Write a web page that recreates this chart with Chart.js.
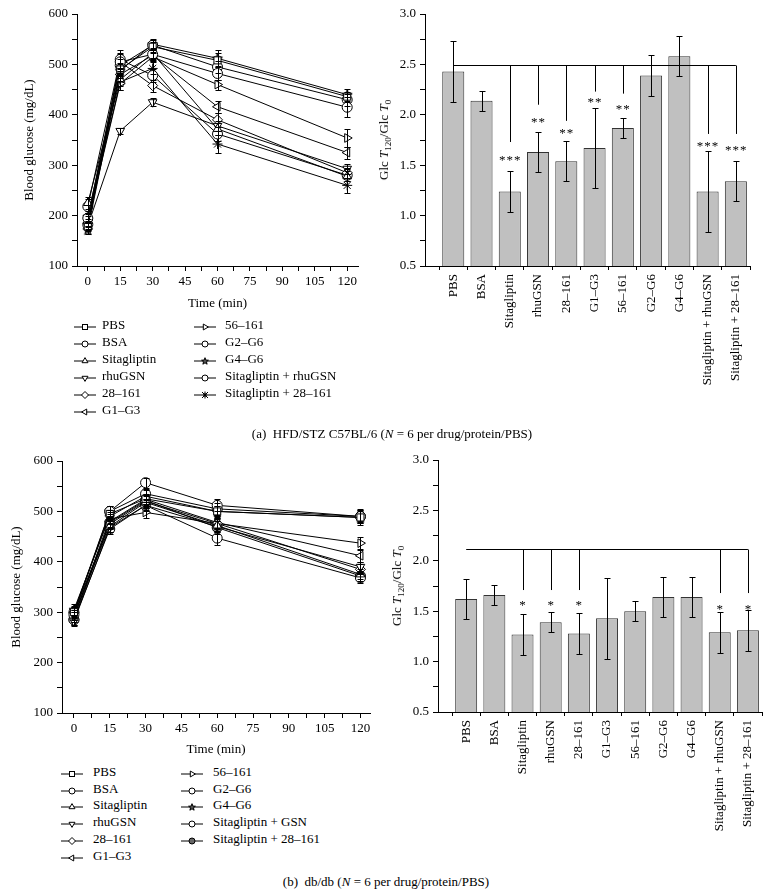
<!DOCTYPE html>
<html>
<head>
<meta charset="utf-8">
<script src="https://cdn.jsdelivr.net/npm/chart.js@4/dist/chart.umd.min.js"></script>
<style>
body { margin: 0; background: #fff; color: #000; font-family: "Liberation Serif", "DejaVu Serif", serif; }
#wrap { position: relative; width: 772px; height: 896px; overflow: hidden; }
canvas { position: absolute; }
.lgs { position: absolute; }
.lgt { position: absolute; font-size: 13px; line-height: 16px; white-space: nowrap; }
.ytitle { position: absolute; font-size: 13px; white-space: nowrap; transform: translate(-50%, -50%) rotate(-90deg); }
.ytitle sub { font-size: 9px; vertical-align: -3px; line-height: 0; }
.cap { position: absolute; font-size: 13px; white-space: nowrap; transform: translateX(-50%); }
</style>
</head>
<body>
<div id="wrap">
  <canvas id="lineA" width="380" height="320" style="left:0;top:0"></canvas>
  <canvas id="barA" width="392" height="420" style="left:380px;top:0"></canvas>
  <canvas id="lineB" width="380" height="320" style="left:0;top:440px"></canvas>
  <canvas id="barB" width="392" height="440" style="left:380px;top:420px"></canvas>
  <div class="ytitle" style="left:384px;top:140px">Glc <i>T</i><sub>120</sub>/Glc <i>T</i><sub>0</sub></div>
  <div class="ytitle" style="left:397px;top:586px">Glc <i>T</i><sub>120</sub>/Glc <i>T</i><sub>0</sub></div>
  <div class="cap" style="left:392px;top:426px">(a)&nbsp; HFD/STZ C57BL/6 (<i>N</i> = 6 per drug/protein/PBS)</div>
  <div class="cap" style="left:386px;top:874px">(b)&nbsp; db/db (<i>N</i> = 6 per drug/protein/PBS)</div>
</div>
<script>
// time points and axis ticks
const times = [0, 15, 30, 60, 120];
const timeTicks = [0, 15, 30, 45, 60, 75, 90, 105, 120];

const groupsA = ['PBS', 'BSA', 'Sitagliptin', 'rhuGSN', '28–161', 'G1–G3', '56–161', 'G2–G6', 'G4–G6', 'Sitagliptin + rhuGSN', 'Sitagliptin + 28–161'];
const groupsB = ['PBS', 'BSA', 'Sitagliptin', 'rhuGSN', '28–161', 'G1–G3', '56–161', 'G2–G6', 'G4–G6', 'Sitagliptin + GSN', 'Sitagliptin + 28–161'];
const barLabels = ['PBS', 'BSA', 'Sitagliptin', 'rhuGSN', '28–161', 'G1–G3', '56–161', 'G2–G6', 'G4–G6', 'Sitagliptin + rhuGSN', 'Sitagliptin + 28–161'];

const marksA = ['square', 'circle', 'tri-up', 'tri-down', 'diamond', 'tri-left', 'tri-right', 'circle', 'star5', 'circle', 'asterisk'];
const marksB = ['square', 'circle', 'tri-up', 'tri-down', 'diamond', 'tri-left', 'tri-right', 'circle', 'star5', 'circle', 'circle-gray'];

// (a) HFD/STZ blood glucose, mg/dL
const glucoseA = [
  [178, 490, 535, 508, 436],
  [195, 505, 520, 482, 415],
  [225, 470, 522, 372, 278],
  [180, 368, 425, 378, 293],
  [185, 505, 458, 390, 285],
  [200, 480, 518, 416, 325],
  [190, 462, 515, 460, 354],
  [182, 498, 538, 495, 430],
  [172, 488, 540, 512, 440],
  [218, 510, 478, 362, 280],
  [195, 465, 492, 342, 260]
];
const errA = [
  [8, 12, 10, 14, 10],
  [10, 18, 10, 12, 20],
  [12, 12, 10, 12, 10],
  [8, 6, 8, 10, 10],
  [8, 15, 12, 14, 10],
  [10, 12, 10, 12, 12],
  [10, 12, 8, 10, 18],
  [8, 12, 10, 12, 12],
  [8, 12, 10, 16, 12],
  [15, 18, 12, 14, 12],
  [10, 15, 12, 18, 15]
];
// (b) db/db blood glucose, mg/dL
const glucoseB = [
  [300, 495, 525, 500, 488],
  [295, 500, 557, 512, 490],
  [295, 470, 518, 472, 375],
  [282, 468, 512, 470, 390],
  [300, 475, 520, 476, 385],
  [290, 480, 524, 478, 412],
  [290, 485, 498, 476, 437],
  [300, 500, 535, 505, 490],
  [305, 490, 530, 500, 488],
  [285, 465, 512, 447, 368],
  [285, 478, 522, 468, 372]
];
const errB = [
  [10, 8, 10, 10, 12],
  [10, 10, 10, 12, 14],
  [10, 10, 12, 12, 10],
  [10, 8, 10, 10, 10],
  [12, 10, 12, 10, 10],
  [10, 10, 10, 10, 12],
  [10, 10, 12, 10, 12],
  [10, 10, 10, 12, 12],
  [12, 8, 12, 10, 14],
  [10, 10, 12, 14, 10],
  [10, 10, 10, 12, 10]
];

// Glc T120 / Glc T0 ratios
const ratioA = [2.43, 2.14, 1.24, 1.63, 1.54, 1.67, 1.87, 2.39, 2.58, 1.24, 1.34];
const ratioErrA = [0.30, 0.10, 0.20, 0.20, 0.20, 0.40, 0.10, 0.20, 0.20, 0.40, 0.20];
const ratioB = [1.62, 1.66, 1.27, 1.39, 1.28, 1.43, 1.50, 1.64, 1.64, 1.29, 1.31];
const ratioErrB = [0.20, 0.10, 0.20, 0.10, 0.20, 0.40, 0.10, 0.20, 0.20, 0.20, 0.20];

// significance brackets
const sigTopA = 2.49;
const sigIdxA = [2, 3, 4, 5, 6, 9, 10];
const sigEndA = [1.73, 2.10, 1.94, 2.23, 2.21, 1.81, 1.81];
const sigStarYA = [1.58, 1.96, 1.85, 2.16, 2.09, 1.72, 1.68];
const sigTextA = ['***', '**', '**', '**', '**', '***', '***'];
const sigTopB = 2.12;
const sigIdxB = [2, 3, 4, 9, 10];
const sigEndB = [1.71, 1.71, 1.71, 1.68, 1.68];
const sigStarYB = [1.59, 1.59, 1.59, 1.55, 1.55];
const sigTextB = ['*', '*', '*', '*', '*'];

Chart.defaults.font.family = '"Liberation Serif", "DejaVu Serif", serif';
Chart.defaults.font.size = 13;
Chart.defaults.color = '#000';

function makeStar() {
  const c = document.createElement('canvas');
  c.width = 12; c.height = 12;
  const g = c.getContext('2d');
  g.beginPath();
  for (let k = 0; k < 10; k++) {
    const r = k % 2 ? 2.3 : 5.3, a = -Math.PI / 2 + k * Math.PI / 5;
    g.lineTo(6 + r * Math.cos(a), 6.5 + r * Math.sin(a));
  }
  g.closePath();
  g.fillStyle = '#666'; g.fill();
  g.strokeStyle = '#000'; g.lineWidth = 1; g.stroke();
  return c;
}
const starImg = makeStar();

function pointStyleFor(m) {
  switch (m) {
    case 'square': return ['rect', 0];
    case 'tri-up': return ['triangle', 0];
    case 'tri-down': return ['triangle', 180];
    case 'tri-left': return ['triangle', -90];
    case 'tri-right': return ['triangle', 90];
    case 'diamond': return ['rectRot', 0];
    case 'star5': return [starImg, 0];
    case 'asterisk': return ['star', 0];
    default: return ['circle', 0];
  }
}

// error bars for any dataset carrying an err array
const errorBars = {
  id: 'errorBars',
  afterDatasetsDraw(chart) {
    const ctx = chart.ctx, ys = chart.scales.y;
    ctx.save();
    ctx.strokeStyle = '#000';
    ctx.lineWidth = 1;
    chart.data.datasets.forEach((ds, di) => {
      if (!ds.err) return;
      const meta = chart.getDatasetMeta(di);
      meta.data.forEach((el, i) => {
        const v = ds.data[i].y, e = ds.err[i];
        const x = Math.round(el.x) + 0.5;
        const y1 = Math.round(ys.getPixelForValue(v - e)) + 0.5;
        const y2 = Math.round(ys.getPixelForValue(v + e)) + 0.5;
        ctx.beginPath();
        ctx.moveTo(x, y1); ctx.lineTo(x, y2);
        ctx.moveTo(x - 3, y1); ctx.lineTo(x + 3, y1);
        ctx.moveTo(x - 3, y2); ctx.lineTo(x + 3, y2);
        ctx.stroke();
      });
    });
    ctx.restore();
  }
};

// comparison bracket and asterisks
const sigLines = {
  id: 'sigLines',
  afterDatasetsDraw(chart, args, opts) {
    if (!opts.idx) return;
    const ctx = chart.ctx, xs = chart.scales.x, ys = chart.scales.y;
    const yt = Math.round(ys.getPixelForValue(opts.top)) + 0.5;
    ctx.save();
    ctx.strokeStyle = '#000';
    ctx.lineWidth = 1;
    ctx.beginPath();
    ctx.moveTo(xs.getPixelForValue(1), yt);
    ctx.lineTo(xs.getPixelForValue(barLabels.length), yt);
    opts.idx.forEach((k, j) => {
      const px = Math.round(xs.getPixelForValue(k + 1)) + 0.5;
      ctx.moveTo(px, yt);
      ctx.lineTo(px, ys.getPixelForValue(opts.ends[j]));
    });
    ctx.stroke();
    ctx.fillStyle = '#000';
    ctx.font = '13px "Liberation Serif", serif';
    ctx.textAlign = 'center';
    ctx.textBaseline = 'alphabetic';
    opts.idx.forEach((k, j) => {
      const px = xs.getPixelForValue(k + 1);
      const py = ys.getPixelForValue(opts.starY[j]) + 7;
      const n = opts.text[j].length;
      for (let s = 0; s < n; s++) {
        ctx.fillText('*', px + (s - (n - 1) / 2) * 7.5, py);
      }
    });
    ctx.restore();
  }
};

function lineSets(names, marks, vals, errs) {
  return names.map((n, i) => {
    const st = pointStyleFor(marks[i]);
    return {
      label: n,
      data: vals[i].map((v, k) => ({ x: times[k], y: v })),
      err: errs[i],
      borderColor: '#000',
      borderWidth: 1,
      pointStyle: st[0],
      pointRotation: st[1],
      pointRadius: 5,
      pointBackgroundColor: marks[i] === 'circle-gray' ? '#888' : '#fff',
      pointBorderColor: '#000',
      pointBorderWidth: 1,
      tension: 0
    };
  });
}

function lineChart(id, names, marks, vals, errs, lay) {
  return new Chart(document.getElementById(id), {
    type: 'line',
    data: { datasets: lineSets(names, marks, vals, errs) },
    plugins: [errorBars],
    options: {
      responsive: false,
      animation: false,
      layout: { padding: { top: lay.top, right: lay.right, bottom: 0, left: 0 } },
      plugins: { legend: { display: false }, tooltip: { enabled: false } },
      scales: {
        x: {
          type: 'linear', min: -5, max: lay.xmax,
          afterBuildTicks: s => {
            const t = [];
            timeTicks.forEach((v, i) => { t.push({ value: v }); if (i < timeTicks.length - 1) t.push({ value: v + 7.5 }); });
            s.ticks = t;
          },
          afterFit: s => { s.height = lay.xh; },
          ticks: { autoSkip: false, maxRotation: 0, padding: 3, font: { size: 13 }, callback: v => timeTicks.includes(v) ? v : '' },
          grid: { drawOnChartArea: false, tickLength: 5, color: '#000' },
          border: { color: '#000' },
          title: { display: true, text: 'Time (min)', font: { size: 13 }, padding: { top: 0, bottom: lay.xtb } }
        },
        y: {
          min: 100, max: 600,
          afterFit: s => { s.width = lay.yw; },
          ticks: { stepSize: 50, autoSkip: false, padding: 4, font: { size: 13 }, callback: v => v % 100 === 0 ? v : '' },
          grid: { drawOnChartArea: false, tickLength: 5, color: '#000' },
          border: { color: '#000' },
          title: { display: true, text: 'Blood glucose (mg/dL)', font: { size: 13 }, padding: { top: lay.ytt, bottom: 0 } }
        }
      }
    }
  });
}

function barChart(id, vals, errs, sig, lay) {
  return new Chart(document.getElementById(id), {
    type: 'bar',
    data: {
      datasets: [{
        data: vals.map((v, i) => ({ x: i + 1, y: v })),
        err: errs,
        backgroundColor: '#c0c0c0',
        borderColor: '#333',
        borderWidth: 1,
        barPercentage: 0.78,
        categoryPercentage: 1
      }]
    },
    plugins: [errorBars, sigLines],
    options: {
      responsive: false,
      animation: false,
      layout: { padding: { top: lay.top, right: lay.right, bottom: 0, left: 0 } },
      plugins: { legend: { display: false }, tooltip: { enabled: false }, sigLines: sig },
      scales: {
        x: {
          type: 'linear', min: 0, max: 11.5, offset: false,
          afterBuildTicks: s => { s.ticks = barLabels.map((_, i) => ({ value: i + 1 })); },
          afterFit: s => { s.height = lay.xh; },
          ticks: { autoSkip: false, minRotation: 90, maxRotation: 90, padding: 4, font: { size: 13 }, callback: v => barLabels[v - 1] },
          grid: { drawOnChartArea: false, tickLength: 4, color: '#000' },
          border: { color: '#000' }
        },
        y: {
          min: 0.5, max: 3.0,
          afterFit: s => { s.width = lay.yw; },
          ticks: { stepSize: 0.25, autoSkip: false, padding: 4, font: { size: 13 }, callback: v => Math.abs(v * 2 - Math.round(v * 2)) < 1e-6 ? v.toFixed(1) : '' },
          grid: { drawOnChartArea: false, tickLength: 5, color: '#000' },
          border: { color: '#000' }
        }
      }
    }
  });
}

lineChart('lineA', groupsA, marksA, glucoseA, errA, { top: 14, right: 22, xmax: 125, xh: 54, xtb: 9, yw: 77, ytt: 22 });
lineChart('lineB', groupsB, marksB, glucoseB, errB, { top: 21, right: 10, xmax: 124, xh: 47, xtb: 3, yw: 62, ytt: 9 });
barChart('barA', ratioA, ratioErrA, { top: sigTopA, idx: sigIdxA, ends: sigEndA, starY: sigStarYA, text: sigTextA }, { top: 14, right: 22, xh: 154, yw: 45 });
barChart('barB', ratioB, ratioErrB, { top: sigTopB, idx: sigIdxB, ends: sigEndB, starY: sigStarYB, text: sigTextB }, { top: 40, right: 10, xh: 148, yw: 58 });

// legends
function markerSvg(m) {
  const cx = 11, cy = 6, r = 3.4;
  const tri = rot => '<polygon points="' + cx + ',' + (cy - r) + ' ' + (cx + r * 0.87) + ',' + (cy + r * 0.5) + ' ' + (cx - r * 0.87) + ',' + (cy + r * 0.5) + '" transform="rotate(' + rot + ' ' + cx + ' ' + cy + ')"/>';
  let shape;
  switch (m) {
    case 'square': shape = '<rect x="8.5" y="3.5" width="5" height="5"/>'; break;
    case 'tri-up': shape = tri(0); break;
    case 'tri-down': shape = tri(180); break;
    case 'tri-left': shape = tri(-90); break;
    case 'tri-right': shape = tri(90); break;
    case 'diamond': shape = '<polygon points="11,2.5 14.5,6 11,9.5 7.5,6"/>'; break;
    case 'star5': {
      let p = '';
      for (let k = 0; k < 10; k++) {
        const rr = k % 2 ? 1.5 : 3.6, a = -Math.PI / 2 + k * Math.PI / 5;
        p += (cx + rr * Math.cos(a)).toFixed(2) + ',' + (cy + 0.3 + rr * Math.sin(a)).toFixed(2) + ' ';
      }
      shape = '<polygon points="' + p + '" fill="#555"/>';
      break;
    }
    case 'asterisk': shape = '<path d="M8,3 L14,9 M14,3 L8,9 M11,2.5 L11,9.5" fill="none"/><circle cx="11" cy="6" r="1.2" fill="#000"/>'; break;
    case 'circle-gray': shape = '<circle cx="11" cy="6" r="3" fill="#666"/>'; break;
    default: shape = '<circle cx="11" cy="6" r="3"/>';
  }
  return '<svg width="22" height="12" xmlns="http://www.w3.org/2000/svg"><line x1="0" y1="6" x2="22" y2="6" stroke="#000" stroke-width="1"/><g fill="#fff" stroke="#000" stroke-width="1">' + shape + '</g></svg>';
}

function legend(names, marks, pos) {
  const wrap = document.getElementById('wrap');
  names.forEach((n, i) => {
    const col = i < 6 ? 0 : 1, row = i < 6 ? i : i - 6;
    const yc = pos.y + row * pos.dy;
    const s = document.createElement('div');
    s.className = 'lgs';
    s.style.left = (col ? pos.sx2 : pos.sx1) + 'px';
    s.style.top = (yc - 6) + 'px';
    s.innerHTML = markerSvg(marks[i]);
    wrap.appendChild(s);
    const t = document.createElement('div');
    t.className = 'lgt';
    t.style.left = (col ? pos.tx2 : pos.tx1) + 'px';
    t.style.top = (yc - 8) + 'px';
    t.textContent = n;
    wrap.appendChild(t);
  });
}
legend(groupsA, marksA, { y: 325, dy: 16.9, sx1: 74, tx1: 102, sx2: 194, tx2: 225 });
legend(groupsB, marksB, { y: 772, dy: 16.7, sx1: 61, tx1: 93, sx2: 181, tx2: 213 });
</script>
</body>
</html>
